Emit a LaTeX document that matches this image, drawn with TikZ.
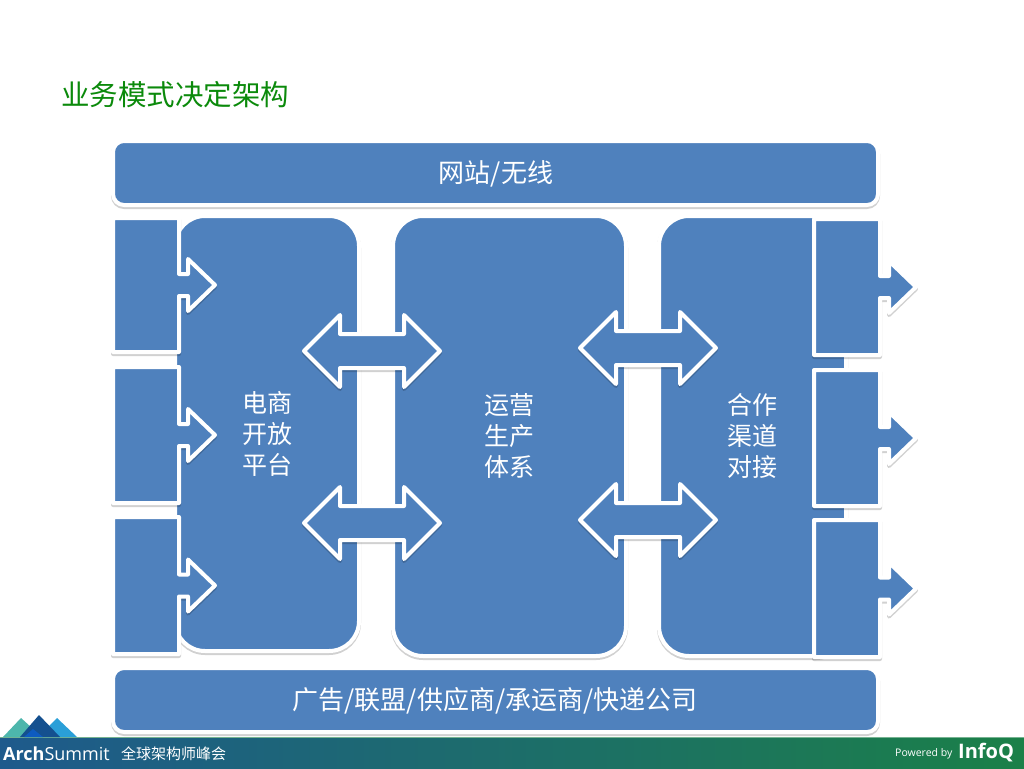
\documentclass[tikz,border=0pt]{standalone}
\usepackage{fontspec}
\setmainfont{Noto Sans CJK SC}
\newfontfamily\latinsans{Open Sans}
\definecolor{boxblue}{HTML}{4F81BD}
\definecolor{titlegreen}{HTML}{0B8A0B}
\definecolor{footblue}{HTML}{1E5A8C}
\definecolor{footgreen}{HTML}{1B8048}
\definecolor{logoteal}{HTML}{4DB6AC}
\definecolor{logosky}{HTML}{2A9FD8}
\definecolor{logodark}{HTML}{14508F}
\definecolor{logodeep}{HTML}{0D5BC0}
\tikzset{
  x=1pt,y=-1pt,
  boxshape/.style={fill=boxblue,draw=white,line width=4pt,line join=round,
    preaction={draw=black,opacity=.18,line width=4pt,line join=round,transform canvas={yshift=-2pt}}},
  boxlabel/.style={text=white,align=center,inner sep=0pt},
  bartext/.style={boxlabel,font=\fontsize{26}{26}\selectfont},
  paneltext/.style={boxlabel,font=\fontsize{25}{31}\selectfont},
}
% #1 left, #2 top, #3 bottom
\newcommand{\leftcall}[3]{%
  \pgfmathsetmacro{\mymid}{(#2+#3)/2}%
  \path[boxshape] (#1,#2) -- (#1+66,#2) -- (#1+66,\mymid-11) -- (#1+75,\mymid-11) -- (#1+75,\mymid-26)
    -- (#1+102,\mymid) -- (#1+75,\mymid+26) -- (#1+75,\mymid+11) -- (#1+66,\mymid+11) -- (#1+66,#3) -- (#1,#3) -- cycle;}
\newcommand{\dblarrow}[2]{%
  \path[boxshape] (#1,#2) -- (#1+36,#2-36) -- (#1+36,#2-17) -- (#1+100,#2-17) -- (#1+100,#2-36)
   -- (#1+136,#2) -- (#1+100,#2+36) -- (#1+100,#2+17) -- (#1+36,#2+17) -- (#1+36,#2+36) -- cycle;}
\begin{document}
\begin{tikzpicture}
\useasboundingbox (0,0) rectangle (1024,768);
\fill[white] (0,0) rectangle (1024,768);
\node[anchor=west,inner sep=0pt,text=titlegreen,font=\fontsize{28.5}{28.5}\selectfont] (title) at (61,95) {业务模式决定架构};
% bars
\path[boxshape,rounded corners=11pt] (113,141) rectangle (878,205);
\node[bartext] (top) at (496,174) {网站/无线};
\path[boxshape,rounded corners=11pt] (113,668) rectangle (878,732);
\node[bartext] (bottom) at (495,701) {广告/联盟/供应商/承运商/快递公司};
% panels
\path[boxshape,rounded corners=30pt] (175,216) rectangle (359,651);
\path[boxshape,rounded corners=30pt] (393,216) rectangle (626,656);
\path[boxshape,rounded corners=30pt] (659,216) rectangle (846,656);
% callouts
\leftcall{113}{218}{352}
\leftcall{113}{367}{503}
\leftcall{113}{517}{654}
\leftcall{814}{219}{355}
\leftcall{814}{370}{506}
\leftcall{814}{520}{657}
% double arrows
\dblarrow{304}{351}
\dblarrow{304}{523}
\dblarrow{580}{348}
\dblarrow{580}{520}
% labels
\node[paneltext] (p1) at (267,434) {电商\\开放\\平台};
\node[paneltext] (p2) at (509,436) {运营\\生产\\体系};
\node[paneltext] (p3) at (752,436) {合作\\渠道\\对接};
% footer
\shade[left color=footblue,right color=footgreen] (0,738) rectangle (1024,768);
\fill[footgreen!60!white] (0,737) rectangle (1024,738);
\fill[logoteal] (3,737) -- (21,718) -- (42,737) -- cycle;
\fill[logosky] (38,737) -- (57,718) -- (77,737) -- cycle;
\fill[logodark] (20,737) -- (39,715) -- (60,737) -- cycle;
\fill[logodeep] (24,737) -- (33,729) -- (43,737) -- cycle;
\node[anchor=west,inner sep=0pt,text=white] (arch) at (3,754) {\latinsans\fontsize{18}{18}\selectfont\textbf{Arch}Summit};
\node[anchor=west,inner sep=0pt,text=white,font=\fontsize{15}{15}\selectfont] (slogan) at (121,754) {全球架构师峰会};
\node[anchor=west,inner sep=0pt,text=white] (powered) at (895,754) {\latinsans\fontsize{10.5}{11}\selectfont Powered by};
\node[anchor=west,inner sep=0pt,text=white] (infoq) at (958,753) {\latinsans\fontsize{20}{20}\selectfont\textbf{InfoQ}};
\end{tikzpicture}
\end{document}
